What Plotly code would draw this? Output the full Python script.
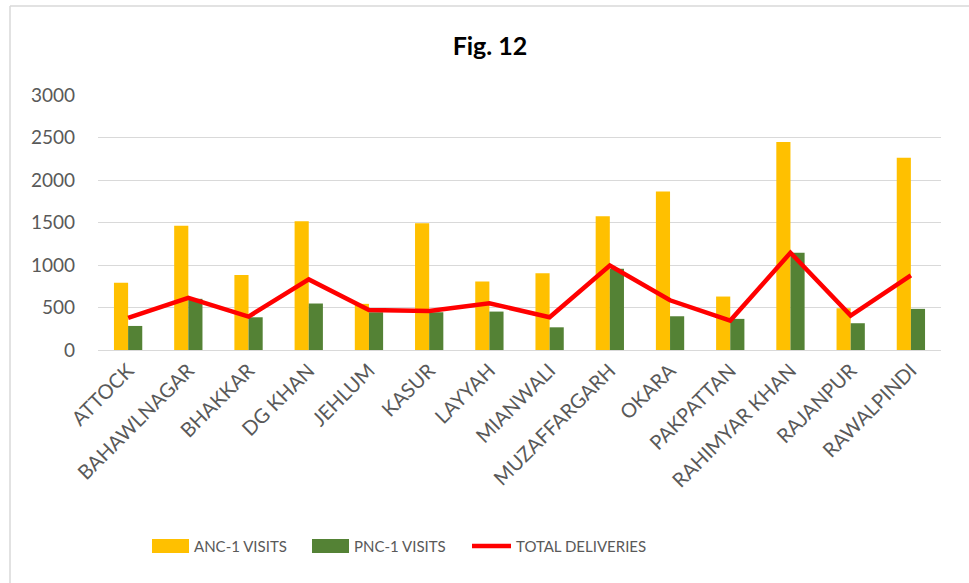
import plotly.graph_objects as go

districts = ["ATTOCK", "BAHAWLNAGAR", "BHAKKAR", "DG KHAN", "JEHLUM", "KASUR", "LAYYAH",
             "MIANWALI", "MUZAFFARGARH", "OKARA", "PAKPATTAN", "RAHIMYAR KHAN", "RAJANPUR", "RAWALPINDI"]
anc1_visits = [790, 1463, 881, 1514, 543, 1490, 806, 904, 1573, 1864, 629, 2446, 491, 2261]
pnc1_visits = [283, 602, 385, 547, 444, 444, 452, 267, 955, 397, 366, 1144, 315, 484]
total_deliveries = [377, 613, 393, 830, 470, 460, 550, 385, 995, 585, 346, 1144, 405, 877]
y_ticks = [0, 500, 1000, 1500, 2000, 2500, 3000]
series_names = ["ANC-1 VISITS", "PNC-1 VISITS", "TOTAL DELIVERIES"]
series_colors = ["#FFC000", "#548235", "#FF0000"]

font_family = "Lato, 'Open Sans', sans-serif"
text_color = "#595959"

W, H = 969, 583
L, R, T, B = 98, 28, 95, 233
PW, PH = W - L - R, H - T - B


def px_x(px):
    return (px - L) / PW


def px_y(py):
    return (H - B - py) / PH


fig = go.Figure()
fig.add_trace(go.Bar(x=districts, y=anc1_visits, name=series_names[0],
                     marker=dict(color=series_colors[0], line=dict(width=0))))
fig.add_trace(go.Bar(x=districts, y=pnc1_visits, name=series_names[1],
                     marker=dict(color=series_colors[1], line=dict(width=0))))
fig.add_trace(go.Scatter(x=districts, y=total_deliveries, name=series_names[2],
                         mode="lines", line=dict(color=series_colors[2], width=4.5)))

fig.update_layout(
    width=W, height=H,
    paper_bgcolor="white", plot_bgcolor="white",
    margin=dict(l=L, r=R, t=T, b=B, autoexpand=False),
    barmode="group", bargap=0.53, bargroupgap=0,
    font=dict(family=font_family, color=text_color, size=16),
    title=dict(text="<b>Fig. 12</b>", x=490 / W, xanchor="center",
               y=1 - 46 / H, yanchor="middle",
               font=dict(family="Lato, 'Open Sans', sans-serif", size=25, color="#000000")),
    showlegend=False,
)
fig.update_xaxes(tickangle=-45, showgrid=False, showline=True, linecolor="#D9D9D9", linewidth=1,
                 ticks="", tickfont=dict(size=20, color=text_color))
fig.update_yaxes(range=[0, 3000], tickvals=y_ticks, showgrid=True, gridcolor="#D9D9D9", gridwidth=1,
                 zeroline=False, showline=False, ticks="", ticklabelstandoff=22,
                 tickfont=dict(size=19, color=text_color))

# chart-area border (left and top edges visible in the reference)
border = dict(color="#D9D9D9", width=1.5)
fig.add_shape(type="line", xref="paper", yref="paper",
              x0=px_x(10), x1=px_x(10), y0=px_y(6), y1=px_y(H + 10), line=border)
fig.add_shape(type="line", xref="paper", yref="paper",
              x0=px_x(10), x1=px_x(W + 10), y0=px_y(6), y1=px_y(6), line=border)

# legend (drawn to match the wide swatches of the reference)
legend_y = 546
swatch_x = [(152, 189), (312, 349), (472, 511)]
for (xa, xb), name, color, i in zip(swatch_x, series_names, series_colors, range(3)):
    if i < 2:
        fig.add_shape(type="rect", xref="paper", yref="paper",
                      x0=px_x(xa), x1=px_x(xb), y0=px_y(legend_y - 7), y1=px_y(legend_y + 7),
                      fillcolor=color, line=dict(width=0))
    else:
        fig.add_shape(type="line", xref="paper", yref="paper",
                      x0=px_x(xa), x1=px_x(xb), y0=px_y(legend_y), y1=px_y(legend_y),
                      line=dict(color=color, width=4.5))
    fig.add_annotation(text=name, xref="paper", yref="paper", x=px_x(xb + 3), y=px_y(legend_y),
                       xanchor="left", yanchor="middle", showarrow=False,
                       font=dict(size=15, color=text_color))

fig.write_html("out.html", config={"displayModeBar": False},
               post_script="document.body.style.margin='0';")
